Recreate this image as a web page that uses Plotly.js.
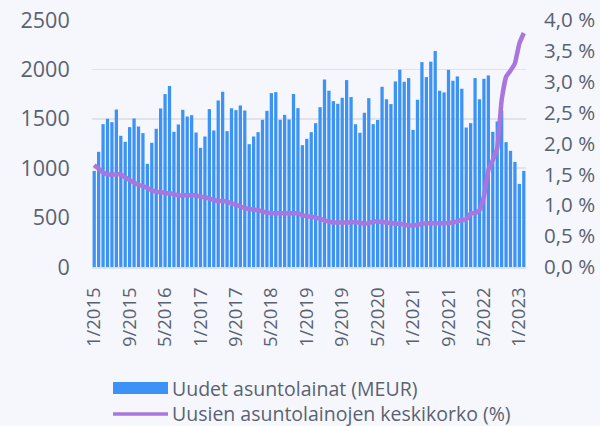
<!DOCTYPE html>
<html>
<head>
<meta charset="utf-8">
<script src="https://cdn.plot.ly/plotly-3.0.1.min.js"></script>
<style>
html,body{margin:0;padding:0;background:#f5f7fc;}
#chart{width:600px;height:426px;}
</style>
</head>
<body>
<div id="chart"></div>
<script>
// Months 1/2015 .. 2/2023
const months = [];
for (let y = 2015; y <= 2023; y++) {
  for (let m = 1; m <= 12; m++) {
    if (y === 2023 && m > 2) break;
    months.push(m + "/" + y);
  }
}

// New housing loans (MEUR)
const newLoans = [
  973,1166,1446,1500,1466,1594,1328,1267,1416,1503,1422,1355,
  1044,1257,1399,1605,1750,1831,1368,1443,1591,1523,1537,1361,
  1206,1321,1598,1382,1686,1774,1375,1608,1588,1635,1584,1243,
  1321,1365,1490,1581,1760,1770,1490,1540,1493,1750,1608,1233,
  1297,1365,1456,1618,1899,1784,1679,1652,1713,1892,1720,1446,
  1358,1561,1709,1446,1488,1824,1699,1649,1878,1997,1875,1912,
  1388,1692,2074,1922,2078,2186,1784,1767,1997,1885,1929,1804,
  1412,1456,1912,1699,1905,1939,1368,1473,1584,1264,1176,1064,
  841,973
];

// Average interest rate of new housing loans (%)
const avgRate = [
  1.65,1.59,1.53,1.50,1.50,1.50,1.50,1.45,1.41,1.37,1.33,1.31,
  1.28,1.24,1.22,1.21,1.20,1.19,1.18,1.16,1.16,1.16,1.16,1.16,
  1.14,1.13,1.11,1.085,1.07,1.07,1.06,1.03,1.01,0.98,0.955,0.94,
  0.93,0.92,0.90,0.88,0.87,0.87,0.87,0.87,0.87,0.87,0.87,0.84,
  0.82,0.815,0.80,0.78,0.755,0.735,0.72,0.72,0.72,0.72,0.725,0.725,
  0.72,0.70,0.71,0.735,0.735,0.73,0.72,0.715,0.70,0.70,0.685,0.675,
  0.675,0.685,0.70,0.71,0.71,0.71,0.71,0.71,0.715,0.72,0.74,0.76,
  0.77,0.87,0.87,0.92,1.14,1.57,1.73,1.92,2.70,3.08,3.18,3.30,
  3.62,3.79
];

const seriesNames = ["Uudet asuntolainat (MEUR)", "Uusien asuntolainojen keskikorko (%)"];
const xTickLabels = months.filter((_, i) => i % 8 === 0);

const BLUE = "#3d93f5";
const PURPLE = "#a975de";
const TXT = "#5a6272";
const FONT = "'Open Sans', Lato, sans-serif";

const W = 600, H = 426;
const M = {l: 92, r: 74, t: 20, b: 159};
const pw = W - M.l - M.r, ph = H - M.t - M.b;
const px = x => (x - M.l) / pw;
const py = y => (H - M.b - y) / ph;

const traces = [
  {
    type: "bar", x: months, y: newLoans, name: seriesNames[0],
    marker: {color: BLUE}, yaxis: "y", hoverinfo: "x+y"
  },
  {
    type: "scatter", mode: "lines", x: months, y: avgRate, name: seriesNames[1],
    line: {color: PURPLE, width: 4.5, shape: "spline", smoothing: 0.4}, yaxis: "y2"
  }
];

const layout = {
  width: W, height: H,
  margin: M,
  paper_bgcolor: "#f5f7fc",
  plot_bgcolor: "#f5f7fc",
  separators: ", ",
  showlegend: false,
  bargap: 0.26,
  font: {family: FONT, size: 18, color: TXT},
  xaxis: {
    type: "category",
    tickmode: "array",
    tickvals: xTickLabels,
    ticktext: xTickLabels,
    tickangle: -90,
    tickfont: {size: 18.5, color: TXT},
    ticks: "outside", ticklen: 11, tickcolor: "rgba(0,0,0,0)",
    showgrid: false,
    showline: true, linecolor: "#dfe2e8", linewidth: 2,
    range: [-0.5, months.length - 0.5]
  },
  yaxis: {
    range: [0, 2500], dtick: 500,
    tickfont: {size: 21.5, color: TXT},
    ticks: "outside", ticklen: 17, tickcolor: "rgba(0,0,0,0)",
    showgrid: true, gridcolor: "#e1e3e9", gridwidth: 1.5,
    zeroline: false, showline: false
  },
  yaxis2: {
    overlaying: "y", side: "right",
    range: [0, 4.0], dtick: 0.5, tickformat: ".1f", ticksuffix: " %",
    tickfont: {size: 20.5, color: TXT},
    ticks: "outside", ticklen: 13, tickcolor: "rgba(0,0,0,0)",
    showgrid: false, zeroline: false, showline: false
  },
  shapes: [
    {type: "rect", xref: "paper", yref: "paper",
     x0: px(113), x1: px(168), y0: py(394), y1: py(382),
     fillcolor: BLUE, line: {width: 0}},
    {type: "line", xref: "paper", yref: "paper",
     x0: px(113), x1: px(168), y0: py(414), y1: py(414),
     line: {color: PURPLE, width: 3.5}}
  ],
  annotations: [
    {xref: "paper", yref: "paper", x: px(170), y: py(388), xanchor: "left", yanchor: "middle",
     text: seriesNames[0], showarrow: false, font: {size: 19.5, color: TXT}},
    {xref: "paper", yref: "paper", x: px(170), y: py(413), xanchor: "left", yanchor: "middle",
     text: seriesNames[1], showarrow: false, font: {size: 19.5, color: TXT}}
  ]
};

Plotly.newPlot("chart", traces, layout, {displayModeBar: false, staticPlot: true});
</script>
</body>
</html>
